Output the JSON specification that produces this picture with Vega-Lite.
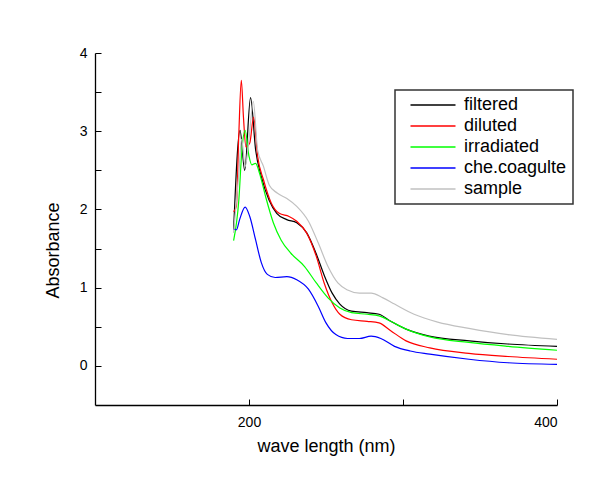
{
  "$schema": "https://vega.github.io/schema/vega-lite/v6.json",
  "autosize": {"type": "none"},
  "width": 462,
  "height": 352,
  "padding": {"left": 95, "top": 53, "right": 55, "bottom": 79},
  "background": "white",
  "config": {
    "view": {"stroke": null},
    "font": "Liberation Sans",
    "legend": {"strokeWidth": 1.5},
    "axis": {
      "grid": false,
      "domainColor": "black",
      "domainWidth": 1.3,
      "tickColor": "black",
      "tickWidth": 1,
      "tickSize": -6,
      "labelColor": "black",
      "titleColor": "black",
      "labelFont": "Liberation Sans",
      "titleFont": "Liberation Sans",
      "labelFontSize": 14,
      "titleFontSize": 18,
      "titleFontWeight": "normal"
    }
  },
  "datasets": {
    "spectra": [
      {"s":"filtered","w":190,"a":1.74},{"s":"filtered","w":194.2,"a":3.01},{"s":"filtered","w":197.2,"a":2.5},{"s":"filtered","w":201,"a":3.43},{"s":"filtered","w":204.3,"a":2.76},{"s":"filtered","w":208,"a":2.42},{"s":"filtered","w":213,"a":2.12},{"s":"filtered","w":218,"a":1.95},{"s":"filtered","w":224.5,"a":1.87},{"s":"filtered","w":231,"a":1.83},{"s":"filtered","w":237.5,"a":1.7},{"s":"filtered","w":243.5,"a":1.44},{"s":"filtered","w":249,"a":1.15},{"s":"filtered","w":254,"a":0.93},{"s":"filtered","w":259,"a":0.79},{"s":"filtered","w":266.5,"a":0.7},{"s":"filtered","w":276.5,"a":0.68},{"s":"filtered","w":284.5,"a":0.66},{"s":"filtered","w":292,"a":0.57},{"s":"filtered","w":302,"a":0.47},{"s":"filtered","w":317,"a":0.38},{"s":"filtered","w":343,"a":0.32},{"s":"filtered","w":368,"a":0.28},{"s":"filtered","w":400,"a":0.25},
      {"s":"diluted","w":190,"a":1.97},{"s":"diluted","w":191.8,"a":2.04},{"s":"diluted","w":193.4,"a":2.97},{"s":"diluted","w":195,"a":3.65},{"s":"diluted","w":196.4,"a":3.18},{"s":"diluted","w":198,"a":2.8},{"s":"diluted","w":200.5,"a":2.85},{"s":"diluted","w":203,"a":3.18},{"s":"diluted","w":205.6,"a":2.68},{"s":"diluted","w":209.4,"a":2.38},{"s":"diluted","w":214.5,"a":2.08},{"s":"diluted","w":219.6,"a":1.95},{"s":"diluted","w":226,"a":1.91},{"s":"diluted","w":231,"a":1.85},{"s":"diluted","w":237.4,"a":1.7},{"s":"diluted","w":243.7,"a":1.4},{"s":"diluted","w":248.8,"a":1.06},{"s":"diluted","w":253.9,"a":0.81},{"s":"diluted","w":259,"a":0.66},{"s":"diluted","w":266.6,"a":0.59},{"s":"diluted","w":276.7,"a":0.57},{"s":"diluted","w":284.4,"a":0.55},{"s":"diluted","w":292,"a":0.45},{"s":"diluted","w":302,"a":0.32},{"s":"diluted","w":317.4,"a":0.23},{"s":"diluted","w":342.8,"a":0.16},{"s":"diluted","w":368.2,"a":0.12},{"s":"diluted","w":400,"a":0.085},
      {"s":"irradiated","w":190,"a":1.6},{"s":"irradiated","w":193.4,"a":2.12},{"s":"irradiated","w":195.4,"a":2.76},{"s":"irradiated","w":197.5,"a":3.01},{"s":"irradiated","w":200,"a":2.68},{"s":"irradiated","w":201.8,"a":2.57},{"s":"irradiated","w":204.3,"a":2.59},{"s":"irradiated","w":206.9,"a":2.46},{"s":"irradiated","w":210.7,"a":2.17},{"s":"irradiated","w":215.8,"a":1.83},{"s":"irradiated","w":220.8,"a":1.61},{"s":"irradiated","w":227.2,"a":1.44},{"s":"irradiated","w":236.1,"a":1.27},{"s":"irradiated","w":243.7,"a":1.06},{"s":"irradiated","w":251.3,"a":0.87},{"s":"irradiated","w":259,"a":0.74},{"s":"irradiated","w":266.6,"a":0.68},{"s":"irradiated","w":276.7,"a":0.66},{"s":"irradiated","w":284.4,"a":0.64},{"s":"irradiated","w":292,"a":0.57},{"s":"irradiated","w":302,"a":0.47},{"s":"irradiated","w":317.4,"a":0.37},{"s":"irradiated","w":342.8,"a":0.3},{"s":"irradiated","w":368.2,"a":0.25},{"s":"irradiated","w":400,"a":0.2},
      {"s":"che.coagulte","w":190,"a":1.75},{"s":"che.coagulte","w":191.8,"a":1.74},{"s":"che.coagulte","w":193.9,"a":1.87},{"s":"che.coagulte","w":197.5,"a":2.03},{"s":"che.coagulte","w":200.5,"a":1.91},{"s":"che.coagulte","w":204.3,"a":1.61},{"s":"che.coagulte","w":208,"a":1.32},{"s":"che.coagulte","w":211.9,"a":1.17},{"s":"che.coagulte","w":217,"a":1.13},{"s":"che.coagulte","w":224.6,"a":1.14},{"s":"che.coagulte","w":231,"a":1.1},{"s":"che.coagulte","w":238.6,"a":0.98},{"s":"che.coagulte","w":245,"a":0.76},{"s":"che.coagulte","w":250,"a":0.55},{"s":"che.coagulte","w":256.4,"a":0.4},{"s":"che.coagulte","w":264,"a":0.35},{"s":"che.coagulte","w":271.7,"a":0.35},{"s":"che.coagulte","w":279.3,"a":0.38},{"s":"che.coagulte","w":285.6,"a":0.35},{"s":"che.coagulte","w":294.5,"a":0.25},{"s":"che.coagulte","w":304.7,"a":0.19},{"s":"che.coagulte","w":317.4,"a":0.15},{"s":"che.coagulte","w":342.8,"a":0.085},{"s":"che.coagulte","w":368.2,"a":0.04},{"s":"che.coagulte","w":400,"a":0.02},
      {"s":"sample","w":190,"a":1.7},{"s":"sample","w":193.4,"a":2.46},{"s":"sample","w":195.2,"a":2.9},{"s":"sample","w":197.5,"a":2.55},{"s":"sample","w":200,"a":2.9},{"s":"sample","w":202.8,"a":3.38},{"s":"sample","w":205.6,"a":2.76},{"s":"sample","w":209.4,"a":2.55},{"s":"sample","w":213.2,"a":2.31},{"s":"sample","w":218.3,"a":2.21},{"s":"sample","w":224.6,"a":2.14},{"s":"sample","w":231,"a":2.04},{"s":"sample","w":238.6,"a":1.85},{"s":"sample","w":245,"a":1.57},{"s":"sample","w":251.3,"a":1.27},{"s":"sample","w":257.7,"a":1.06},{"s":"sample","w":264,"a":0.97},{"s":"sample","w":271.7,"a":0.93},{"s":"sample","w":279.3,"a":0.93},{"s":"sample","w":287,"a":0.87},{"s":"sample","w":294.5,"a":0.79},{"s":"sample","w":307.2,"a":0.66},{"s":"sample","w":322.5,"a":0.56},{"s":"sample","w":342.8,"a":0.48},{"s":"sample","w":368.2,"a":0.4},{"s":"sample","w":400,"a":0.34}
    ]
  },
  "data": {"name": "spectra"},
  "mark": {"type": "line", "interpolate": "monotone", "strokeWidth": 1.2},
  "encoding": {
    "x": {
      "field": "w", "type": "quantitative",
      "scale": {"domain": [100, 400], "nice": false, "zero": false},
      "axis": {
        "title": "wave length (nm)",
        "values": [200, 300, 400],
        "labelExpr": "datum.value == 300 ? '' : datum.label",
        "labelPadding": 16,
        "titlePadding": 8
      }
    },
    "y": {
      "field": "a", "type": "quantitative",
      "scale": {"domain": [-0.5, 4], "nice": false, "zero": false},
      "axis": {
        "title": "Absorbance",
        "values": [0, 0.5, 1, 1.5, 2, 2.5, 3, 3.5, 4],
        "labelExpr": "datum.value % 1 === 0 ? format(datum.value, 'd') : ''",
        "labelPadding": 14,
        "titleX": -42,
        "titleBaseline": "middle",
        "titleY": 197
      }
    },
    "color": {
      "field": "s", "type": "nominal",
      "sort": ["filtered", "diluted", "irradiated", "che.coagulte", "sample"],
      "scale": {
        "domain": ["filtered", "diluted", "irradiated", "che.coagulte", "sample"],
        "range": ["#000000", "#ff0000", "#00ff00", "#0000ff", "#c0c0c0"]
      },
      "legend": {
        "title": null,
        "orient": "none",
        "legendX": 300,
        "legendY": 37,
        "padding": 6,
        "strokeColor": "#333333",
        "fillColor": "white",
        "symbolType": "M-3,0H3",
        "symbolSize": 225,
        "symbolStrokeWidth": 1.5,
        "symbolOffset": 23,
        "labelOffset": 22,
        "labelFontSize": 18,
        "labelFont": "Liberation Sans",
        "labelColor": "black",
        "rowPadding": 3
      }
    }
  }
}
